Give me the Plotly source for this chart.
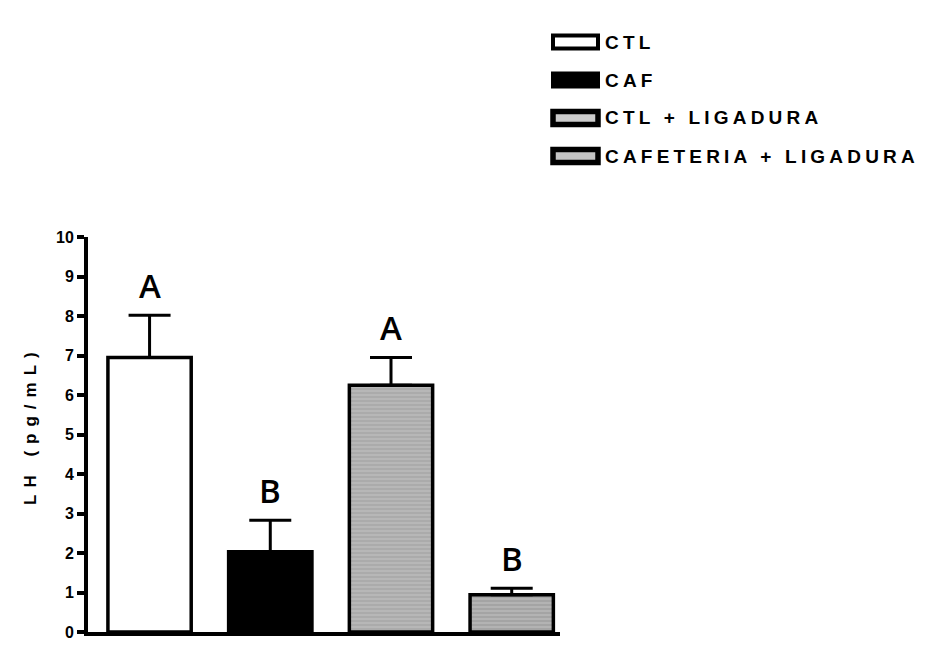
import plotly.graph_objects as go

# ---- data ----
groups = ["CTL", "CAF", "CTL + LIGADURA", "CAFETERIA + LIGADURA"]
lh_mean = [6.95, 2.03, 6.25, 0.94]
lh_sem = [1.07, 0.80, 0.70, 0.17]
letters = ["A", "B", "A", "B"]
yticks = [0, 1, 2, 3, 4, 5, 6, 7, 8, 9, 10]
y_title = "LH (pg/mL)"

# ---- styles ----
fills = ["white", "black", "#ababab", "#a4a4a4"]
patterns = ["", "", "-", "-"]
legend_fills = ["white", "black", "#cccccc", "#c4c4c4"]
legend_borders = [4, 4, 5.5, 5.5]

OFF = 8  # page body margin
W, H = 929 - OFF, 646 - OFF
L, R, T, B = 88 - OFF, 560 - OFF, 237 - OFF, 632 - OFF  # plot area in figure px


def px_to_paper_x(p):
    return (p - OFF - L) / (R - L)


def px_to_paper_y(q):
    return (B - (q - OFF)) / (B - T)


fig = go.Figure()
for i, g in enumerate(groups):
    fig.add_trace(go.Bar(
        x=[i], y=[lh_mean[i]], name=g, width=0.69,
        marker=dict(color=fills[i], line=dict(color="black", width=3.5),
                    pattern=dict(shape=patterns[i], bgcolor=fills[i], fgcolor="#cfcfcf",
                                 size=4, solidity=0.35)),
        error_y=dict(type="data", symmetric=False, array=[lh_sem[i]], arrayminus=[0],
                     color="black", thickness=3, width=21),
        showlegend=False,
    ))

# significance letters
for i, lt in enumerate(letters):
    fig.add_annotation(x=i, y=lh_mean[i] + lh_sem[i], text=lt, showarrow=False,
                       yanchor="bottom", yshift=5,
                       font=dict(family="Open Sans", size=33, color="black", weight=600))

# custom legend (boxes + labels), reference-pixel positions
leg_rows = [42, 80, 118, 156]
box_x0, box_x1 = 553, 598
for i, g in enumerate(groups):
    yc = leg_rows[i]
    fig.add_shape(type="rect", xref="paper", yref="paper",
                  x0=px_to_paper_x(box_x0), x1=px_to_paper_x(box_x1),
                  y0=px_to_paper_y(yc + 6.5), y1=px_to_paper_y(yc - 6.5),
                  line=dict(color="black", width=legend_borders[i]),
                  fillcolor=legend_fills[i])
    fig.add_annotation(xref="paper", yref="paper", x=px_to_paper_x(603), y=px_to_paper_y(yc),
                       xanchor="left", yanchor="middle", showarrow=False,
                       text=f'<span style="letter-spacing:4.2px">{g}</span>',
                       font=dict(family="Liberation Sans", size=19, color="black", weight="bold"))

# y-axis title
fig.add_annotation(xref="paper", yref="paper", x=px_to_paper_x(30), y=px_to_paper_y(425),
                   xanchor="center", yanchor="middle", textangle=-90, showarrow=False,
                   text=f'<span style="letter-spacing:7px">{y_title}</span>',
                   font=dict(family="Liberation Sans", size=17, color="black", weight="bold"))

fig.update_layout(
    width=W, height=H,
    margin=dict(l=L, r=W - R, t=T, b=H - B, pad=0, autoexpand=False),
    paper_bgcolor="white", plot_bgcolor="white",
    barmode="overlay",
    xaxis=dict(range=[-0.51, 3.4], showticklabels=False, ticks="", showgrid=False,
               zeroline=False, showline=True, linecolor="black", linewidth=3.5,
               automargin=False),
    yaxis=dict(range=[0, 10], tickvals=yticks, ticks="outside", ticklen=7, tickwidth=3.5,
               tickcolor="black", showgrid=False, zeroline=False, showline=True,
               linecolor="black", linewidth=4, automargin=False,
               tickfont=dict(family="Liberation Sans", size=16, color="black", weight="bold")),
)

fig.write_html("out.html")
